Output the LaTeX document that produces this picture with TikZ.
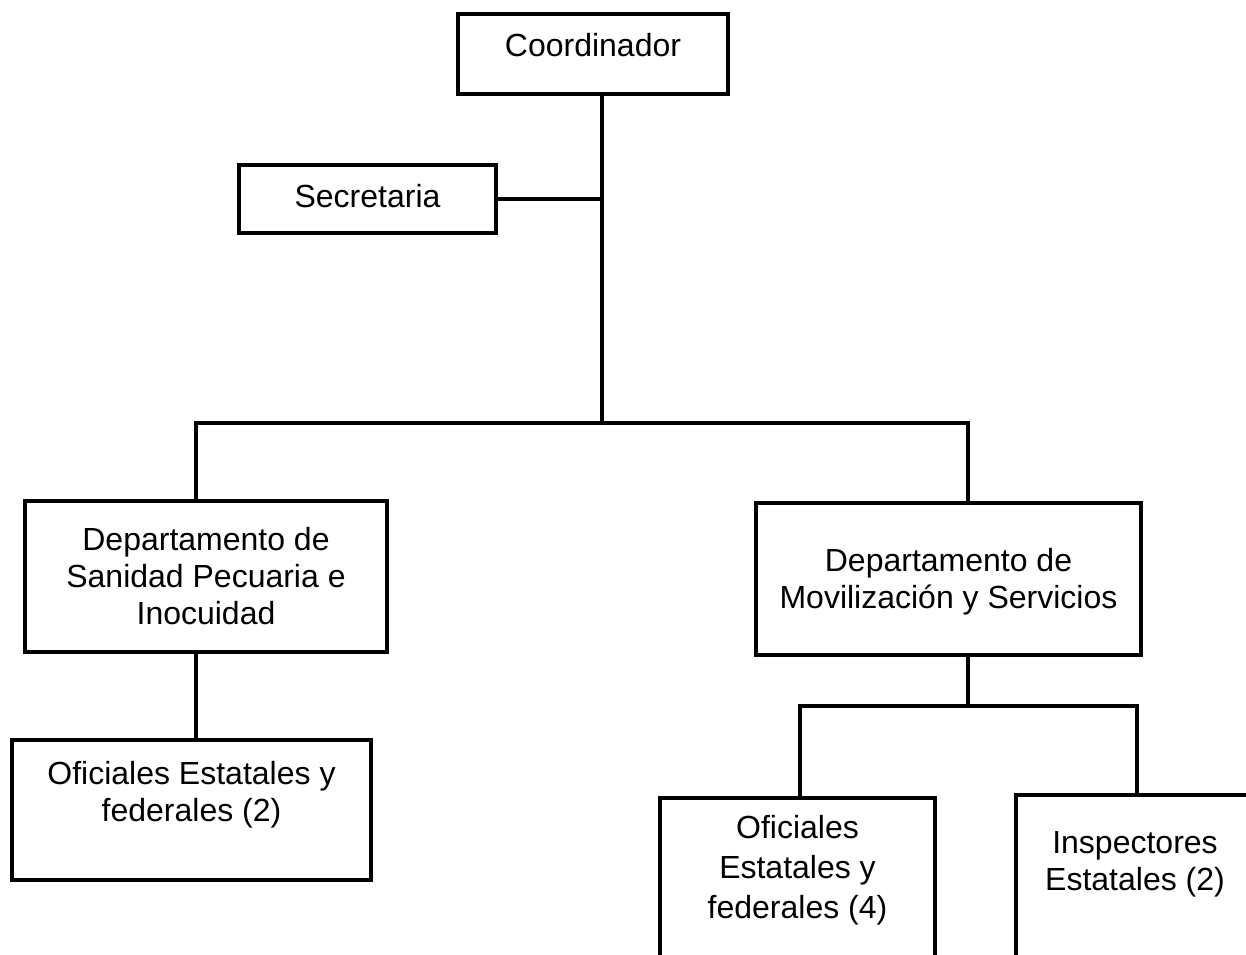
\documentclass[tikz,border=0pt]{standalone}
\usepackage{fontspec}
\setmainfont{Liberation Sans}
\usetikzlibrary{positioning}

\begin{document}
\begin{tikzpicture}[x=0.5pt,y=-0.5pt,line width=1.8pt,
        unit/.style={draw,rectangle,align=center,inner sep=0pt,
          font=\fontsize{16}{18.5}\selectfont}]
        \useasboundingbox (0,0) rectangle (1246,954);
        \clip (0,0) rectangle (1246,954);

        \node[unit,minimum width=135pt,minimum height=40pt,text depth=9pt] (coord) at (593,54) {Coordinador};
        \node[unit,minimum width=128.5pt,minimum height=34pt,text depth=3pt] (sec) at (367.5,199) {Secretaria};
        \node[unit,minimum width=181pt,minimum height=75.5pt] (sanidad) at (206,576.5)
                {Departamento de\\Sanidad Pecuaria e\\Inocuidad};
        \node[unit,minimum width=192.5pt,minimum height=76pt,text depth=1pt] (movil) at (948.5,579)
                {Departamento de\\Movilizaci\'on y Servicios};
        \node[unit,minimum width=179.5pt,minimum height=70pt,text depth=18.4pt] (ofi2) at (191.5,810)
                {Oficiales Estatales y\\federales (2)};
        % the two lower boxes run past the bottom edge
        \node[unit,minimum width=137.5pt,minimum height=91pt,text depth=22.4pt,
                font=\fontsize{16}{20}\selectfont] (ofi4) at (797.5,889)
                {Oficiales\\Estatales y\\federales (4)};
        \node[unit,minimum width=119pt,minimum height=92.5pt,text depth=26.4pt] (insp) at (1135,887.5)
                {Inspectores\\Estatales (2)};

        \coordinate (hub) at (602,423);
        \coordinate (lft) at (196,423);
        \coordinate (rgt) at (968,423);
        \coordinate (sub) at (968,706);
        \coordinate (subl) at (800,706);
        \coordinate (subr) at (1137,706);

        \draw (coord.south -| hub) -- (hub);
        \draw (sec.east) -- (sec.east -| hub);
        \draw (lft |- sanidad.north) -- (lft) -- (rgt) -- (rgt |- movil.north);
        \draw (lft |- sanidad.south) -- (lft |- ofi2.north);
        \draw (movil.south -| sub) -- (sub);
        \draw (subl |- ofi4.north) -- (subl) -- (subr) -- (subr |- insp.north);
\end{tikzpicture}
\end{document}
